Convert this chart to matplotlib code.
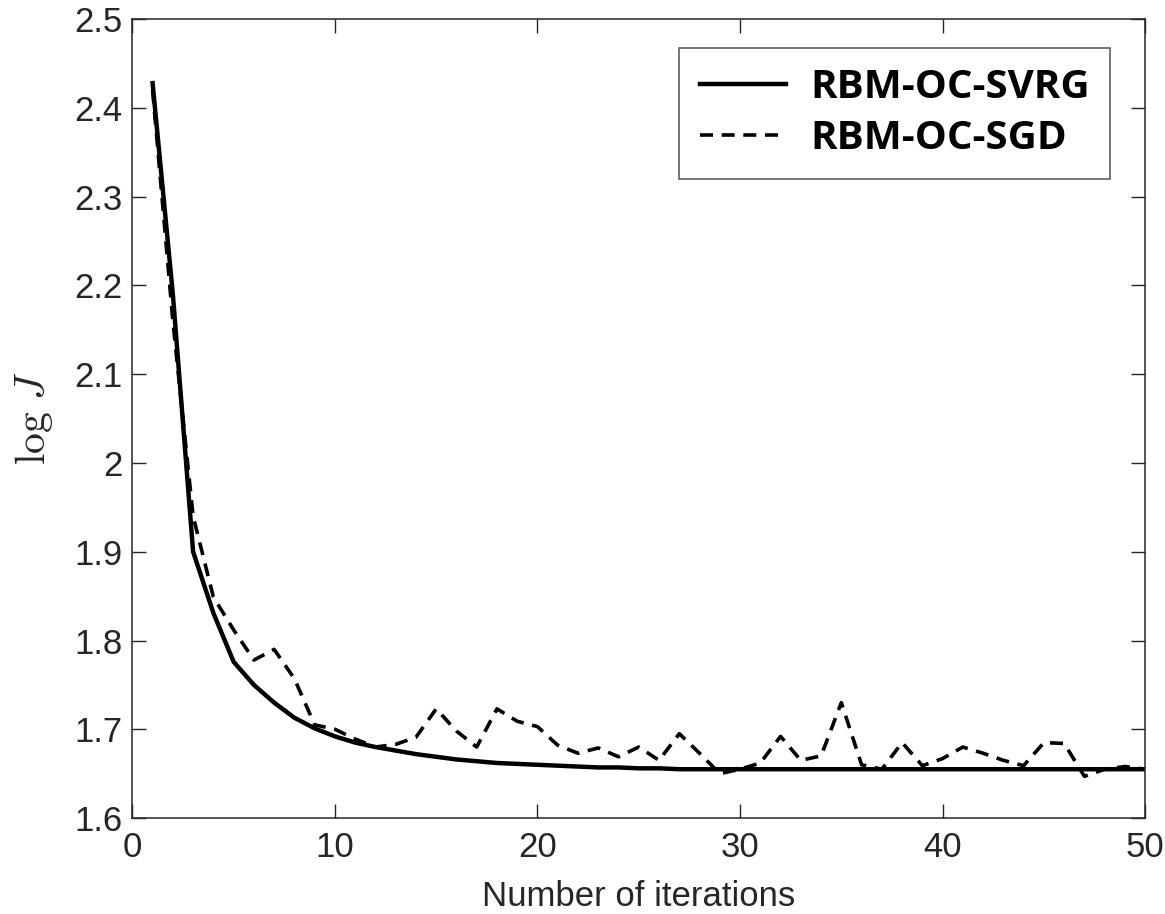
import numpy as np
import matplotlib
matplotlib.use("Agg")
import matplotlib.pyplot as plt

# iterations 1..50
iterations = np.arange(1, 51)

svrg = [2.428, 2.19, 1.900, 1.831, 1.776, 1.750, 1.730, 1.713, 1.701, 1.692,
        1.685, 1.680, 1.676, 1.672, 1.669, 1.666, 1.664, 1.662, 1.661, 1.660,
        1.659, 1.658, 1.657, 1.657, 1.656, 1.656, 1.655, 1.655, 1.655, 1.655,
        1.655, 1.655, 1.655, 1.655, 1.655, 1.655, 1.655, 1.655, 1.655, 1.655,
        1.655, 1.655, 1.655, 1.655, 1.655, 1.655, 1.655, 1.655, 1.655, 1.655]

sgd = [2.420, 2.160, 1.940, 1.849, 1.812, 1.778, 1.790, 1.757, 1.705, 1.700,
       1.689, 1.680, 1.683, 1.691, 1.723, 1.698, 1.680, 1.723, 1.709, 1.703,
       1.682, 1.673, 1.679, 1.669, 1.680, 1.665, 1.695, 1.673, 1.650, 1.655,
       1.662, 1.692, 1.665, 1.670, 1.730, 1.660, 1.655, 1.685, 1.659, 1.667,
       1.680, 1.673, 1.665, 1.659, 1.685, 1.684, 1.647, 1.655, 1.658, 1.655]

xticks = [0, 10, 20, 30, 40, 50]
yticks = [1.6, 1.7, 1.8, 1.9, 2.0, 2.1, 2.2, 2.3, 2.4, 2.5]
ytick_labels = ["1.6", "1.7", "1.8", "1.9", "2", "2.1", "2.2", "2.3", "2.4", "2.5"]

plt.rcParams['font.family'] = ['Liberation Sans', 'DejaVu Sans']
plt.rcParams['mathtext.fontset'] = 'cm'

fig = plt.figure(figsize=(11.65, 9.14), dpi=100)
ax = fig.add_axes([0.1136, 0.105, 0.8694, 0.874])

axis_col = '#262626'
ax.plot(iterations, svrg, '-', color='black', lw=3.2, label='RBM-OC-SVRG')
ax.plot(iterations, sgd, '--', color='black', lw=2.6, dashes=(3.6, 2.4), label='RBM-OC-SGD')

ax.set_xlim(0, 50)
ax.set_ylim(1.6, 2.5)
ax.set_xticks(xticks)
ax.set_yticks(yticks)
ax.set_yticklabels(ytick_labels)
ax.tick_params(direction='in', length=10, width=1, colors=axis_col,
               labelsize=25, top=True, right=True, pad=7)
ax.tick_params(axis='x', pad=9)
for s in ax.spines.values():
    s.set_color(axis_col)
    s.set_linewidth(1.1)

ax.set_xlabel('Number of iterations', fontsize=25, color=axis_col, labelpad=12)
ax.set_ylabel(r'$\log\,J$', fontsize=30, color=axis_col, labelpad=14)

leg = ax.legend(loc='upper right', bbox_to_anchor=(0.9654, 0.9637),
                prop={'family': 'Open Sans', 'weight': 'bold', 'size': 29},
                frameon=True, fancybox=False, edgecolor=axis_col,
                handlelength=2.15, handletextpad=0.6, borderpad=0.5,
                labelspacing=0.3, borderaxespad=0)
leg.get_frame().set_linewidth(1.1)

fig.savefig('out.png', dpi=100)
